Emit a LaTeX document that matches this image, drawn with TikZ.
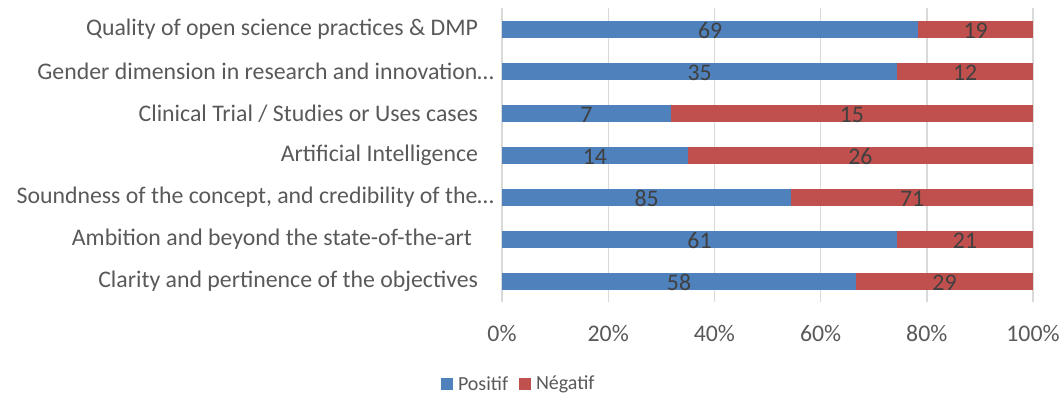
\documentclass[tikz,border=0pt]{standalone}
\usepackage{fontspec}
\setmainfont{Carlito}
\usetikzlibrary{positioning}
\definecolor{posblue}{HTML}{4F81BD}
\definecolor{negred}{HTML}{C0504D}
\definecolor{gridgray}{HTML}{D9D9D9}
\definecolor{labelgray}{HTML}{595959}
\definecolor{valgray}{HTML}{404040}

\begin{document}
\begin{tikzpicture}[x=1pt,y=-1pt,
  every node/.style={inner sep=0pt, outer sep=0pt},
  catlabel/.style={anchor=east, text=labelgray, font=\fontsize{23.8}{28}\selectfont},
  ticklabel/.style={text=labelgray, font=\fontsize{23.8}{28}\selectfont},
  vallabel/.style={text=valgray, font=\fontsize{23.8}{28}\selectfont},
  legtext/.style={text=labelgray, font=\fontsize{20}{24}\selectfont},
  legbox/.style={minimum width=12pt, minimum height=12pt}]
\useasboundingbox (0,0) rectangle (1063,395);

% gridlines and percent axis
\foreach \p in {0,20,...,100} {
  \draw[gridgray, line width=1.4pt] ({502+5.31*\p},8) -- ({502+5.31*\p},302);
  \node[ticklabel] (tick\p) at ({502+5.31*\p},333) {\p\%};
}

% stacked bars, one per criterion
\foreach \i/\lab/\xe/\pos/\neg in {
  1/{Quality of open science practices \& DMP}/478/69/19,
  2/{Gender dimension in research and innovation…}/494/35/12,
  3/{Clinical Trial / Studies or Uses cases}/478/7/15,
  4/{Artificial Intelligence}/478/14/26,
  5/{Soundness of the concept, and credibility of the…}/494/85/71,
  6/{Ambition and beyond the state-of-the-art}/472/61/21,
  7/{Clarity and pertinence of the objectives}/478/58/29} {
  \pgfmathsetmacro{\yc}{29.5+42*(\i-1)}
  \pgfmathsetmacro{\fr}{\pos/(\pos+\neg)}
  \pgfmathsetmacro{\xs}{502+531*\fr}
  \fill[posblue] (502,\yc-8.5) rectangle (\xs,\yc+8.5);
  \fill[negred] (\xs,\yc-8.5) rectangle (1033,\yc+8.5);
  \node[vallabel] (pos\i) at ({(502+\xs)/2},\yc+1) {\pos};
  \node[vallabel] (neg\i) at ({(\xs+1033)/2},\yc+1) {\neg};
  \node[catlabel] (cat\i) at (\xe,\yc) {\lab};
}

% legend
\node[legbox, fill=posblue] (legpos) at (447,384) {};
\node[legtext, anchor=west, right=5pt of legpos] (legpostxt) {Positif};
\node[legbox, fill=negred] (legneg) at (525,384) {};
\node[legtext, anchor=west, right=5pt of legneg] (legnegtxt) {Négatif};
\end{tikzpicture}
\end{document}
